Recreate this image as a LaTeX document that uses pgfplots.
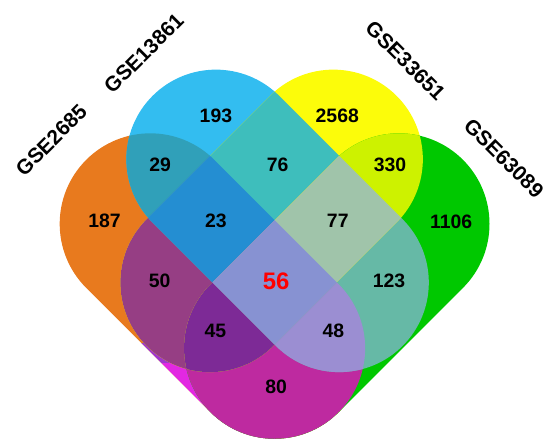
\documentclass[border=0pt]{standalone}
\usepackage{pgfplots}
\pgfplotsset{compat=1.18}
\usepackage{fontspec}
\setmainfont{Liberation Sans}

% region colours
\definecolor{cA}{RGB}{232,122,30}
\definecolor{cAlow}{RGB}{226,40,226}
\definecolor{cAmid}{RGB}{160,55,205}
\definecolor{cB}{RGB}{51,189,240}
\definecolor{cC}{RGB}{252,252,10}
\definecolor{cD}{RGB}{0,200,0}
\definecolor{cAB}{RGB}{48,160,185}
\definecolor{cAC}{RGB}{150,62,132}
\definecolor{cAD}{RGB}{190,42,160}
\definecolor{cBC}{RGB}{62,190,188}
\definecolor{cBD}{RGB}{102,185,166}
\definecolor{cCD}{RGB}{205,242,0}
\definecolor{cABC}{RGB}{36,142,210}
\definecolor{cABD}{RGB}{155,142,210}
\definecolor{cACD}{RGB}{125,42,150}
\definecolor{cBCD}{RGB}{160,196,170}
\definecolor{cABCD}{RGB}{135,146,210}

% the four sets: rounded bars at 45 degrees
\def\setA{(215.35,282.35) -- (340.35,157.35) arc[start angle=45,end angle=-135,radius=91pt] -- (86.65,153.65) arc[start angle=-135,end angle=-315,radius=91pt] -- cycle}
\def\setB{(280.64,346.64) -- (404.64,222.64) arc[start angle=45,end angle=-135,radius=90pt] -- (153.36,219.36) arc[start angle=-135,end angle=-315,radius=90pt] -- cycle}
\def\setC{(398.64,219.36) -- (274.64,95.36) arc[start angle=-45,end angle=-225,radius=90pt] -- (271.36,346.64) arc[start angle=-225,end angle=-405,radius=90pt] -- cycle}
\def\setD{(465.35,153.65) -- (340.35,28.65) arc[start angle=-45,end angle=-225,radius=91pt] -- (336.65,282.35) arc[start angle=-225,end angle=-405,radius=91pt] -- cycle}

\newcommand{\numfont}{\fontsize{19.5}{20}\selectfont\bfseries}
\newcommand{\setfont}{\fontsize{21}{22}\selectfont\bfseries}

\begin{document}
\begin{tikzpicture}
\begin{axis}[x=1pt, y=1pt, xmin=0, xmax=550, ymin=0, ymax=443,
  hide axis, clip=false]
  \path (0,0) rectangle (550,443);
  % single sets
  \fill[cA] \setA;
  \begin{scope}\clip \setA;
    \fill[cAmid] (0,78) rectangle (276,98);
    \fill[cAlow] (0,0) rectangle (276,78);
  \end{scope}
  \fill[cB] \setB;
  \fill[cC] \setC;
  \fill[cD] \setD;
  % pairs
  \begin{scope}\clip \setA; \fill[cAB] \setB; \end{scope}
  \begin{scope}\clip \setA; \fill[cAC] \setC; \end{scope}
  \begin{scope}\clip \setA; \fill[cAD] \setD; \end{scope}
  \begin{scope}\clip \setB; \fill[cBC] \setC; \end{scope}
  \begin{scope}\clip \setB; \fill[cBD] \setD; \end{scope}
  \begin{scope}\clip \setC; \fill[cCD] \setD; \end{scope}
  % triples
  \begin{scope}\clip \setA; \clip \setB; \fill[cABC] \setC; \end{scope}
  \begin{scope}\clip \setA; \clip \setB; \fill[cABD] \setD; \end{scope}
  \begin{scope}\clip \setA; \clip \setC; \fill[cACD] \setD; \end{scope}
  \begin{scope}\clip \setB; \clip \setC; \fill[cBCD] \setD; \end{scope}
  % all four
  \begin{scope}\clip \setA; \clip \setB; \clip \setC; \fill[cABCD] \setD; \end{scope}

  % counts
  \node[font=\numfont] at (105,221) {187};
  \node[font=\numfont] at (217,327) {193};
  \node[font=\numfont] at (339,327) {2568};
  \node[font=\numfont] at (453.5,220.5) {1106};
  \node[font=\numfont] at (161,277) {29};
  \node[font=\numfont] at (279,277) {76};
  \node[font=\numfont] at (392,277) {330};
  \node[font=\numfont] at (217,221) {23};
  \node[font=\numfont] at (339.5,221) {77};
  \node[font=\numfont] at (160.5,160.5) {50};
  \node[font=\fontsize{24}{24}\selectfont\bfseries, text=red] at (277.5,160.3) {56};
  \node[font=\numfont] at (391,160.5) {123};
  \node[font=\numfont] at (216.5,110.5) {45};
  \node[font=\numfont] at (335,110.5) {48};
  \node[font=\numfont] at (277.5,54) {80};

  % set names
  \node[font=\setfont, rotate=45] at (51.5,302) {GSE2685};
  \node[font=\setfont, rotate=45] at (144.5,389.5) {GSE13861};
  \node[font=\setfont, rotate=-45] at (407.5,382) {GSE33651};
  \node[font=\setfont, rotate=-45] at (506.5,284) {GSE63089};
\end{axis}
\end{tikzpicture}
\end{document}
